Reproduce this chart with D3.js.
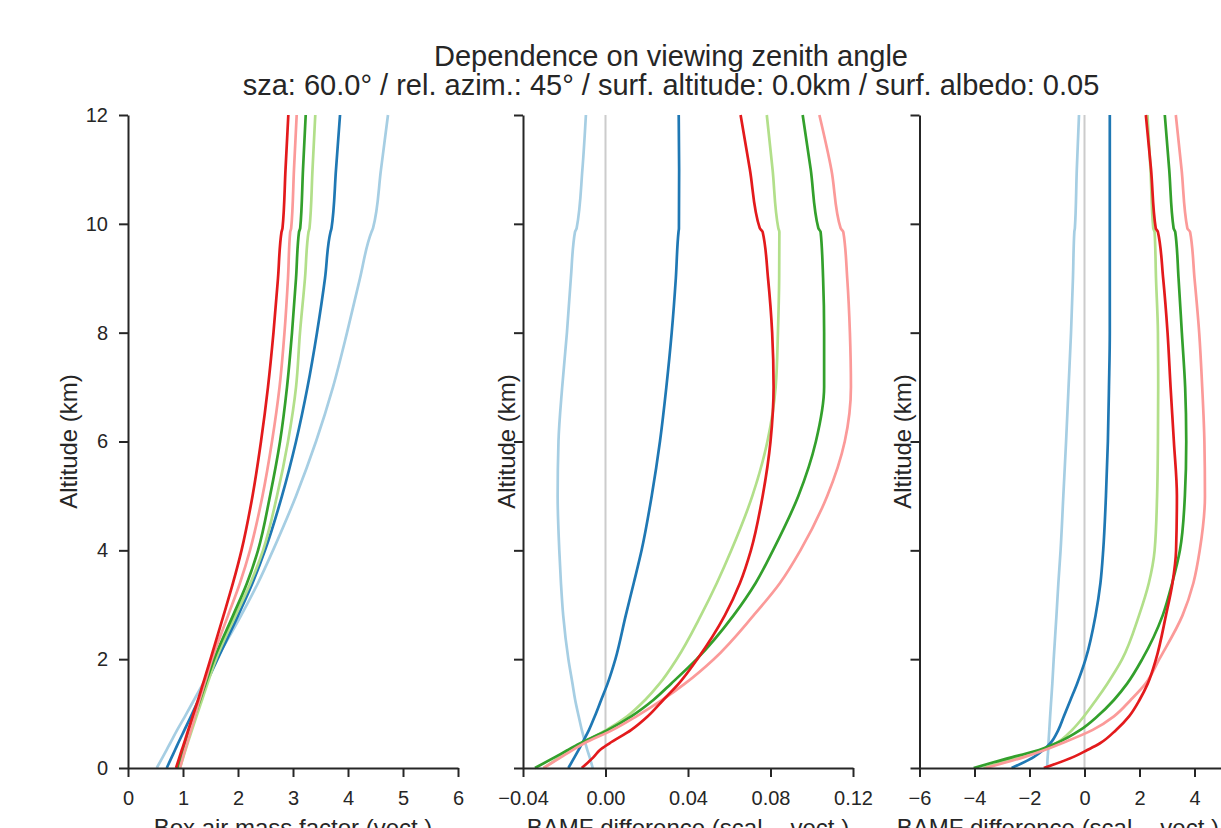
<!DOCTYPE html>
<html><head><meta charset="utf-8">
<script src="https://cdn.jsdelivr.net/npm/d3@7"></script>
<style>
body{margin:0;background:#fff}
svg text{font-family:"Liberation Sans",Arial,Helvetica,sans-serif;fill:#262626}
</style>
</head><body>
<svg id="chart" width="1221" height="828"></svg>
<script>
// ---------------- data ----------------
const titleLines = ["Dependence on viewing zenith angle",
  "sza: 60.0° / rel. azim.: 45° / surf. altitude: 0.0km / surf. albedo: 0.05"];
const seriesKeys = ["s1","s2","s3","s4","s5","s6"];
const seriesColors = ["#a6cee3","#1f78b4","#b2df8a","#33a02c","#fb9a99","#e31a1c"];
const altitudeKm = [0,0.2,0.33,0.45,0.7,0.95,1.25,1.55,2,2.8,3.4,4,5,6,7,8,9,9.85,9.92,11,12];
const yTicks = [0,2,4,6,8,10,12];

// panel 1: box air mass factor (vect.)
const bamfVect = {
  s1:[0.522,0.631,0.700,0.764,0.895,1.036,1.200,1.364,1.609,2.055,2.364,2.636,3.055,3.418,3.727,3.982,4.218,4.427,4.455,4.600,4.727],
  s2:[0.704,0.795,0.855,0.909,1.027,1.145,1.282,1.418,1.627,2.000,2.264,2.491,2.800,3.055,3.264,3.436,3.582,3.682,3.700,3.782,3.855],
  s3:[0.945,1.005,1.045,1.082,1.164,1.245,1.345,1.445,1.600,1.955,2.227,2.455,2.709,2.909,3.055,3.127,3.218,3.282,3.300,3.355,3.405],
  s4:[0.900,0.964,1.005,1.045,1.127,1.209,1.309,1.409,1.564,1.909,2.164,2.364,2.582,2.764,2.891,2.982,3.055,3.109,3.131,3.182,3.231],
  s5:[0.945,1.000,1.036,1.073,1.145,1.218,1.300,1.391,1.527,1.818,2.036,2.218,2.445,2.618,2.755,2.845,2.909,2.949,2.967,3.018,3.067],
  s6:[0.873,0.936,0.978,1.018,1.096,1.176,1.273,1.364,1.500,1.736,1.909,2.064,2.264,2.418,2.545,2.645,2.727,2.791,2.809,2.864,2.915]
};
// panel 2: BAMF difference (scal. - vect.)
const bamfDiff = {
  s1:[-0.0062,-0.0077,-0.0088,-0.0097,-0.0115,-0.0130,-0.0147,-0.0160,-0.0180,-0.0205,-0.0216,-0.0224,-0.0232,-0.0228,-0.0210,-0.0187,-0.0168,-0.0148,-0.0140,-0.0112,-0.0095],
  s2:[-0.0180,-0.0150,-0.0131,-0.0114,-0.0080,-0.0052,-0.0021,0.0010,0.0048,0.0098,0.0137,0.0175,0.0224,0.0264,0.0295,0.0321,0.0341,0.0354,0.0356,0.0357,0.0355],
  s3:[-0.0300,-0.0222,-0.0172,-0.0118,0.0005,0.0105,0.0192,0.0262,0.0345,0.0462,0.0540,0.0610,0.0712,0.0785,0.0825,0.0836,0.0842,0.0843,0.0838,0.0810,0.0782],
  s4:[-0.0342,-0.0245,-0.0183,-0.0124,0.0012,0.0125,0.0232,0.0318,0.0442,0.0620,0.0728,0.0812,0.0935,0.1020,0.1060,0.1060,0.1055,0.1043,0.1032,0.0995,0.0956],
  s5:[-0.0300,-0.0215,-0.0160,-0.0105,0.0035,0.0150,0.0275,0.0385,0.0525,0.0717,0.0846,0.0945,0.1075,0.1160,0.1190,0.1185,0.1172,0.1153,0.1140,0.1095,0.1037],
  s6:[-0.0115,-0.0058,-0.0027,0.0018,0.0125,0.0205,0.0280,0.0355,0.0445,0.0578,0.0652,0.0705,0.0762,0.0800,0.0815,0.0808,0.0788,0.0762,0.0748,0.0700,0.0655]
};
// panel 3: BAMF difference (scal. - vect.) in %
const bamfDiffPct = {
  s1:[-1.36,-1.34,-1.32,-1.31,-1.28,-1.25,-1.21,-1.17,-1.12,-1.02,-0.95,-0.87,-0.77,-0.67,-0.58,-0.49,-0.42,-0.37,-0.35,-0.28,-0.20],
  s2:[-2.65,-1.85,-1.50,-1.25,-0.95,-0.75,-0.51,-0.27,0.04,0.40,0.58,0.68,0.78,0.85,0.89,0.92,0.92,0.92,0.92,0.92,0.92],
  s3:[-3.67,-2.39,-1.55,-1.05,-0.45,-0.02,0.42,0.83,1.37,1.98,2.34,2.55,2.64,2.67,2.68,2.67,2.60,2.55,2.50,2.40,2.29],
  s4:[-4.03,-2.62,-1.65,-1.05,-0.15,0.47,1.07,1.55,2.10,2.84,3.19,3.47,3.65,3.70,3.66,3.54,3.42,3.30,3.24,3.08,2.92],
  s5:[-3.60,-2.20,-1.45,-0.85,0.30,1.07,1.68,2.22,2.72,3.56,3.96,4.19,4.38,4.36,4.28,4.17,4.00,3.84,3.74,3.53,3.32],
  s6:[-1.48,-0.42,0.10,0.55,1.15,1.62,2.00,2.30,2.60,2.96,3.20,3.33,3.36,3.25,3.13,3.02,2.86,2.67,2.59,2.42,2.23]
};
const panel1Ticks = [0,1,2,3,4,5,6];
const panel2Ticks = [-0.04,0.00,0.04,0.08,0.12];
const panel3Ticks = [-6,-4,-2,0,2,4,6];
const xLabels = ["Box air mass factor (vect.)","BAMF difference (scal. - vect.)","BAMF difference (scal. - vect.) in %"];
const yLabel = "Altitude (km)";

// ---------------- layout ----------------
const svg = d3.select("#chart");
const yTop = 115, yBottom = 768, pw = 330;
const panels = [
  {left:128, domain:[0,6], ticks:panel1Ticks, fmt:d3.format("d"), data:bamfVect, zero:false, ylab:true, labelX:77},
  {left:523, domain:[-0.04,0.12], ticks:panel2Ticks, fmt:d3.format(".2f"), data:bamfDiff, zero:true, ylab:false, labelX:515},
  {left:919.5, domain:[-6,6], ticks:panel3Ticks, fmt:d3.format("d"), data:bamfDiffPct, zero:true, ylab:false, labelX:911}
];
const y = d3.scaleLinear().domain([0,12]).range([yBottom, yTop]);

// title
svg.append("text").attr("x",671).attr("y",66).attr("text-anchor","middle")
  .style("font-size","29px").text(titleLines[0]);
svg.append("text").attr("x",671).attr("y",95).attr("text-anchor","middle")
  .style("font-size","29px").text(titleLines[1]);

panels.forEach((p,i)=>{
  const x = d3.scaleLinear().domain(p.domain).range([p.left, p.left+pw]);
  const g = svg.append("g");
  if (p.zero) {
    g.append("line").attr("x1",x(0)).attr("x2",x(0)).attr("y1",yTop).attr("y2",yBottom)
      .attr("stroke","#cccccc").attr("stroke-width",2);
  }
  const line = d3.line().x(d=>x(d[1])).y(d=>y(d[0])).curve(d3.curveMonotoneY);
  seriesKeys.forEach((k,j)=>{
    const pts = altitudeKm.map((h,m)=>[h, p.data[k][m]]);
    g.append("path").datum(pts).attr("d",line).attr("fill","none")
      .attr("stroke",seriesColors[j]).attr("stroke-width",2.7)
      .attr("stroke-linejoin","round").attr("stroke-linecap","butt");
  });
  const xa = g.append("g").attr("transform",`translate(0,${yBottom})`)
    .call(d3.axisBottom(x).tickValues(p.ticks).tickFormat(p.fmt).tickSize(9).tickSizeOuter(0).tickPadding(14));
  const ya = g.append("g").attr("transform",`translate(${p.left},0)`)
    .call(d3.axisLeft(y).tickValues(yTicks).tickFormat(p.ylab? d3.format("d") : ()=>"").tickSize(9).tickSizeOuter(0).tickPadding(11));
  [xa,ya].forEach(a=>{
    a.attr("font-family",null).attr("font-size",null);
    a.select(".domain").attr("stroke","#262626").attr("stroke-width",2);
    a.selectAll(".tick line").attr("stroke","#262626").attr("stroke-width",2);
    a.selectAll(".tick text").style("font-size","20px").attr("fill","#262626");
  });
  svg.append("text").attr("x",p.left+pw/2).attr("y",836).attr("text-anchor","middle")
    .style("font-size","24px").text(xLabels[i]);
  svg.append("text").attr("transform",`translate(${p.labelX},${(yTop+yBottom)/2}) rotate(-90)`)
    .attr("text-anchor","middle").style("font-size","24px").text(yLabel);
});
</script>
</body></html>
